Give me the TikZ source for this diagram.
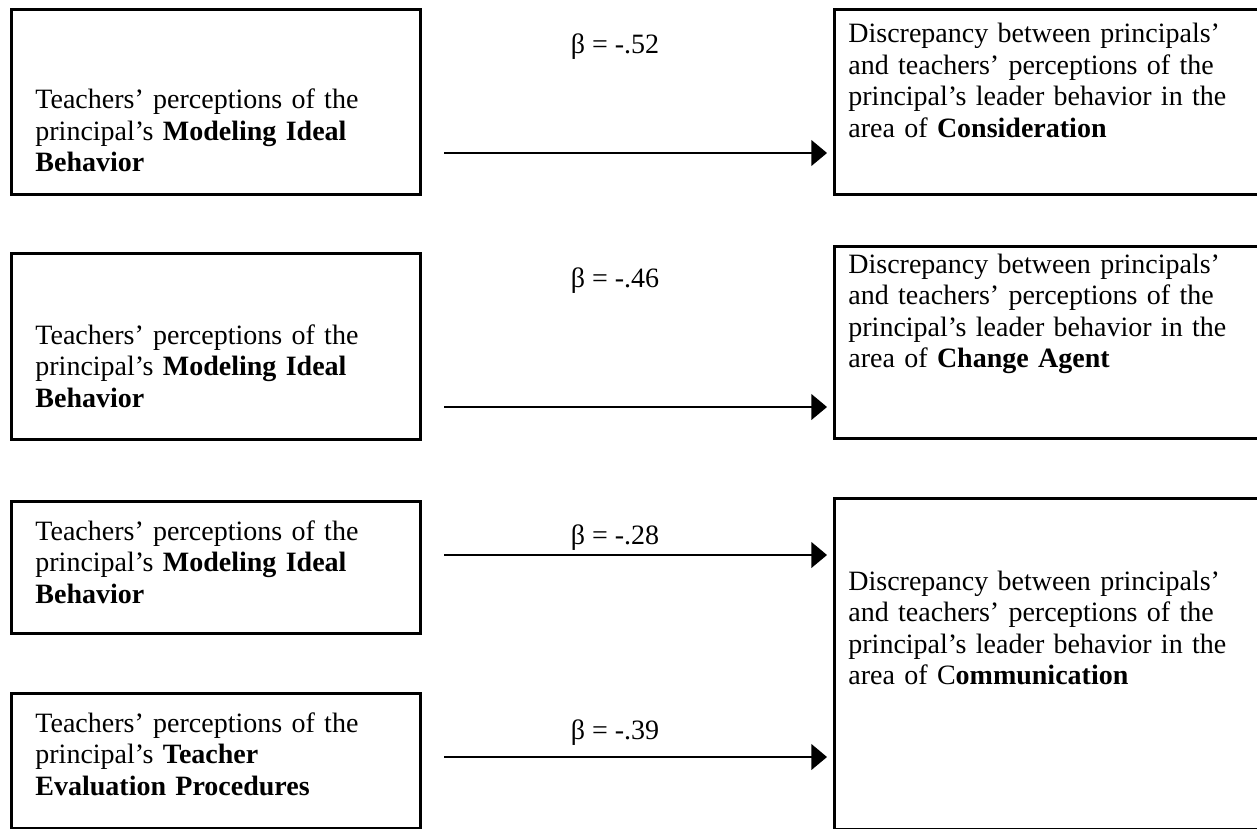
\documentclass[tikz,border=0pt]{standalone}
\usepackage{fontspec}
\setmainfont{Liberation Serif}
\usetikzlibrary{arrows.meta}
\begin{document}
\begin{tikzpicture}[x=0.5pt,y=-0.5pt,
  box/.style={draw, line width=1.5pt, inner sep=0pt, anchor=north west},
  txt/.style={anchor=base west, align=left, inner sep=0pt, text width=#1,
    font=\fontsize{14}{15.75}\selectfont},
  coef/.style={anchor=base, inner sep=0pt, font=\fontsize{14}{15.75}\selectfont},
  arr/.style={line width=1pt, -{Triangle[length=7.8pt,width=12.8pt]}}]
  \useasboundingbox (0,0) rectangle (1257,829);
  \clip (0,0) rectangle (1257,829);
  % predictors (left)
  \node[box, minimum width=204.5pt, minimum height=92.5pt] (pred1) at (10,8) {};
  \node[box, minimum width=204.5pt, minimum height=93pt] (pred2) at (10,252) {};
  \node[box, minimum width=204.5pt, minimum height=66pt] (pred3) at (10,500) {};
  \node[box, minimum width=204.5pt, minimum height=67.5pt] (pred4) at (10,692) {};
  % outcomes (right), cut off at the edge
  \node[box, minimum width=214.5pt, minimum height=92.5pt] (disc1) at (833,8) {};
  \node[box, minimum width=214.5pt, minimum height=96pt] (disc2) at (833,245) {};
  \node[box, minimum width=214.5pt, minimum height=165.5pt] (disc3) at (833,497) {};
  % texts
  \node[txt=200pt] (tp1) at (35,109) {Teachers’ perceptions of the\\
    principal’s \textbf{Modeling Ideal}\\ \textbf{Behavior}};
  \node[txt=200pt] (tp2) at (35,344) {Teachers’ perceptions of the\\
    principal’s \textbf{Modeling Ideal}\\ \textbf{Behavior}};
  \node[txt=200pt] (tp3) at (35,540) {Teachers’ perceptions of the\\
    principal’s \textbf{Modeling Ideal}\\ \textbf{Behavior}};
  \node[txt=200pt] (tp4) at (35,732) {Teachers’ perceptions of the\\
    principal’s \textbf{Teacher}\\ \textbf{Evaluation Procedures}};
  \node[txt=205pt] (td1) at (848,43) {Discrepancy between principals’\\
    and teachers’ perceptions of the\\ principal’s leader behavior in the\\
    area of \textbf{Consideration}};
  \node[txt=205pt] (td2) at (848,273) {Discrepancy between principals’\\
    and teachers’ perceptions of the\\ principal’s leader behavior in the\\
    area of \textbf{Change Agent}};
  \node[txt=205pt] (td3) at (848,590) {Discrepancy between principals’\\
    and teachers’ perceptions of the\\ principal’s leader behavior in the\\
    area of C\textbf{ommunication}};
  % paths
  \coordinate (s1) at (444,153); \coordinate (e1) at (827,153);
  \coordinate (s2) at (444,407); \coordinate (e2) at (827,407);
  \coordinate (s3) at (444,555); \coordinate (e3) at (827,555);
  \coordinate (s4) at (444,757); \coordinate (e4) at (827,757);
  \draw[arr] (s1) -- (e1);
  \draw[arr] (s2) -- (e2);
  \draw[arr] (s3) -- (e3);
  \draw[arr] (s4) -- (e4);
  \node[coef] (b1) at (615,54) {β = -.52};
  \node[coef] (b2) at (615,287) {β = -.46};
  \node[coef] (b3) at (615,544) {β = -.28};
  \node[coef] (b4) at (615,739) {β = -.39};
\end{tikzpicture}
\end{document}
